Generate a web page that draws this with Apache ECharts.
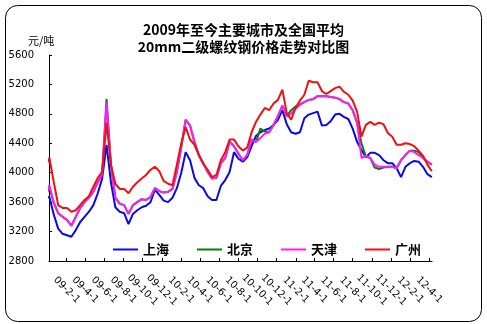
<!DOCTYPE html>
<html>
<head>
<meta charset="utf-8">
<script src="https://cdn.jsdelivr.net/npm/echarts@6/dist/echarts.min.js"></script>
<style>
  html, body { margin: 0; padding: 0; background: #fff; }
  #chart { width: 487px; height: 324px; }
</style>
</head>
<body>
<div id="chart"></div>
<script>
// Sampling dates (fortnightly price quotes)
const dates = [
  '2008-11-24','2008-12-08','2008-12-22','2009-01-05','2009-01-19','2009-02-02','2009-02-16','2009-03-02','2009-03-16','2009-03-30',
  '2009-04-13','2009-04-27','2009-05-11','2009-05-25','2009-06-08','2009-06-22','2009-07-06','2009-07-20','2009-08-03','2009-08-17',
  '2009-08-31','2009-09-14','2009-09-28','2009-10-12','2009-10-26','2009-11-09','2009-11-23','2009-12-07','2009-12-21','2010-01-04',
  '2010-01-18','2010-02-01','2010-02-15','2010-03-01','2010-03-15','2010-03-29','2010-04-12','2010-04-26','2010-05-10','2010-05-24',
  '2010-06-07','2010-06-21','2010-07-05','2010-07-19','2010-08-02','2010-08-16','2010-08-30','2010-09-13','2010-09-27','2010-10-11',
  '2010-10-25','2010-11-08','2010-11-22','2010-12-06','2010-12-20','2011-01-03','2011-01-17','2011-01-31','2011-02-14','2011-02-28',
  '2011-03-14','2011-03-28','2011-04-11','2011-04-25','2011-05-09','2011-05-23','2011-06-06','2011-06-20','2011-07-04','2011-07-18',
  '2011-08-01','2011-08-15','2011-08-29','2011-09-12','2011-09-26','2011-10-10','2011-10-24','2011-11-07','2011-11-21','2011-12-05',
  '2011-12-19','2012-01-02','2012-01-16','2012-01-30','2012-02-13','2012-02-27','2012-03-12','2012-03-26','2012-04-09'
];

// 上海 (元/吨)
const shanghai = [
  3660,3670,3430,3240,3170,3150,3130,3220,3330,3400,
  3470,3560,3720,3920,4380,3870,3530,3470,3450,3300,
  3440,3490,3530,3550,3600,3770,3700,3620,3600,3660,
  3790,4000,4280,4170,3930,3830,3790,3680,3630,3630,
  3820,3900,4010,4280,4190,4150,4210,4360,4500,4550,
  4580,4600,4650,4720,4850,4660,4550,4530,4550,4740,
  4790,4810,4830,4640,4650,4700,4790,4800,4760,4730,
  4600,4420,4310,4210,4270,4270,4240,4170,4130,4130,
  4060,3940,4080,4130,4160,4150,4080,3980,3940
];

// 北京 (元/吨)
const beijing = [
  3670,3800,3590,3450,3400,3360,3280,3400,3520,3600,
  3670,3740,3870,3980,5000,4110,3660,3580,3560,3440,
  3560,3600,3640,3630,3670,3790,3750,3730,3740,3780,
  4010,4350,4720,4640,4420,4240,4130,4010,3920,3930,
  4130,4200,4420,4360,4260,4170,4240,4450,4420,4600,
  4560,4550,4650,4770,4910,4770,4850,4900,4930,4960,
  4990,5000,5040,5040,5040,5030,5020,5000,4960,4940,
  4850,4680,4400,4220,4200,4070,4050,4070,4080,4080,
  4060,4170,4240,4300,4300,4280,4200,4150,4110
];

// 天津 (元/吨)
const tianjin = [
  3670,3830,3590,3450,3400,3360,3280,3400,3520,3600,
  3660,3740,3870,3980,4950,4110,3660,3580,3560,3440,
  3560,3600,3640,3630,3670,3790,3750,3730,3740,3780,
  4010,4350,4720,4640,4420,4240,4130,4010,3920,3930,
  4130,4200,4420,4360,4260,4170,4240,4450,4420,4470,
  4530,4550,4650,4770,4910,4770,4800,4870,4920,4960,
  4990,5000,5040,5040,5040,5030,5020,5000,4960,4940,
  4850,4680,4200,4230,4200,4110,4080,4080,4080,4080,
  4060,4170,4240,4300,4280,4240,4200,4150,4110
];

// 广州 (元/吨)
const guangzhou = [
  4070,4200,3870,3560,3520,3520,3470,3490,3560,3630,
  3680,3810,3930,4010,4680,4110,3850,3780,3780,3720,
  3810,3870,3920,3970,4040,4080,4020,3890,3850,3830,
  4110,4400,4620,4450,4380,4240,4120,4040,3940,3970,
  4170,4280,4450,4450,4360,4300,4340,4550,4690,4790,
  4880,4850,4940,4990,5130,4810,4720,4880,4980,5060,
  5250,5230,5230,5110,5070,5110,5150,5170,5100,5060,
  4980,4830,4490,4650,4690,4650,4680,4660,4540,4490,
  4380,4380,4400,4390,4360,4300,4230,4110,4020
];

const seriesNames = ['上海', '北京', '天津', '广州'];
const seriesColors = ['#0a0ae6', '#0a7d0a', '#ff1aff', '#f01010'];
const seriesValues = [shanghai, beijing, tianjin, guangzhou];

// Tick labels along the date axis (yy-M-d)
const tickLabels = [
  '09-2-1','09-4-1','09-6-1','09-8-1','09-10-1','09-12-1',
  '10-2-1','10-4-1','10-6-1','10-8-1','10-10-1','10-12-1',
  '11-2-1','11-4-1','11-6-1','11-8-1','11-10-1','11-12-1',
  '12-2-1','12-4-1'
];

const DAY = 86400000;
function toTime(s) {
  const p = s.split('-').map(Number);
  return Date.UTC(p[0], p[1] - 1, p[2]);
}
function labelTime(lbl) {
  const p = lbl.split('-').map(Number);
  return Date.UTC(2000 + p[0], p[1] - 1, p[2]);
}
const tickTimes = tickLabels.map(labelTime);
const labelByTime = {};
tickLabels.forEach((l, i) => { labelByTime[tickTimes[i]] = l; });

const xs = dates.map(toTime);
const axisStart = xs[0] + 12.7 * DAY;
const axisEnd = xs[xs.length - 1] + 0.6 * DAY;

const chart = echarts.init(document.getElementById('chart'), null, { renderer: 'canvas' });

chart.setOption({
  animation: false,
  backgroundColor: '#ffffff',
  title: {
    text: '2009年至今主要城市及全国平均\n20mm二级螺纹钢价格走势对比图',
    left: 'center',
    top: 16,
    textStyle: {
      fontFamily: 'Noto Sans CJK SC',
      fontSize: 14,
      fontWeight: 'bold',
      color: '#000',
      lineHeight: 17
    }
  },
  graphic: [
    {
      type: 'rect',
      shape: { x: 5.5, y: 5.5, width: 476, height: 316, r: 12 },
      style: { fill: 'none', stroke: '#000', lineWidth: 1 },
      silent: true
    },
    {
      type: 'text',
      left: 28,
      top: 35,
      style: {
        text: '元/吨',
        font: '11px "Noto Sans CJK SC"',
        fill: '#000'
      }
    }
  ],
  legend: {
    data: seriesNames,
    left: 108,
    top: 238,
    icon: 'rect',
    itemWidth: 25,
    itemHeight: 2,
    itemGap: 28,
    textStyle: {
      fontFamily: 'Noto Sans CJK SC',
      fontSize: 13,
      fontWeight: 'bold',
      color: '#000'
    }
  },
  grid: {
    left: 49,
    right: 55,
    top: 55,
    bottom: 63,
    containLabel: false
  },
  xAxis: {
    type: 'value',
    min: axisStart,
    max: axisEnd,
    splitLine: { show: false },
    axisLine: { show: true, onZero: false, lineStyle: { color: '#000', width: 1 } },
    axisTick: {
      show: true,
      inside: true,
      length: 3,
      customValues: tickTimes,
      lineStyle: { color: '#000' }
    },
    axisLabel: {
      customValues: tickTimes,
      rotate: -45,
      align: 'center',
      verticalAlign: 'middle',
      margin: 29,
      fontFamily: 'DejaVu Sans',
      fontSize: 10,
      color: '#000',
      formatter: v => labelByTime[v] || ''
    }
  },
  yAxis: {
    type: 'value',
    min: 2800,
    max: 5600,
    interval: 400,
    splitLine: { show: false },
    axisLine: { show: true, lineStyle: { color: '#000', width: 1 } },
    axisTick: { show: true, inside: true, length: 3, lineStyle: { color: '#000' } },
    axisLabel: {
      margin: 15,
      fontFamily: 'DejaVu Sans',
      fontSize: 10,
      color: '#000',
      formatter: v => String(v)
    }
  },
  series: seriesNames.map((name, i) => ({
    name: name,
    type: 'line',
    symbol: 'none',
    clip: false,
    color: seriesColors[i],
    lineStyle: { width: 2, color: seriesColors[i] },
    data: xs.map((t, j) => [t, seriesValues[i][j]])
  }))
});
</script>
</body>
</html>
